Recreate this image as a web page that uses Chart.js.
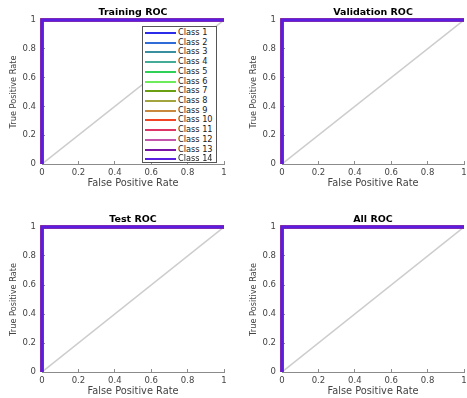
<!DOCTYPE html>
<html>
<head>
<meta charset="utf-8">
<script src="https://cdn.jsdelivr.net/npm/chart.js@4.4.1/dist/chart.umd.min.js"></script>
<style>
    body { margin: 0; background: #ffffff; }
    #page { position: relative; width: 467px; height: 398px; overflow: hidden; background: #ffffff; }
    canvas { position: absolute; }
    #legend {
        position: absolute; left: 142px; top: 26px; width: 75px; height: 137px;
        background: #ffffff; border: 1px solid #555555; box-sizing: border-box;
        font-family: 'DejaVu Sans', sans-serif; font-size: 8.2px; color: #222222;
        padding-top: 1px;
    }
    .row { position: relative; height: 9.72px; }
    .row .swatch { position: absolute; left: 2px; top: 4px; width: 31px; height: 2px; }
    .row .label { position: absolute; left: 35px; top: 0; line-height: 9.72px; white-space: nowrap; }
</style>
</head>
<body>
<div id="page">
    <canvas id="train" width="227" height="198" style="left:0;top:0"></canvas>
    <canvas id="valid" width="227" height="198" style="left:240px;top:0"></canvas>
    <canvas id="test" width="227" height="206" style="left:0;top:200px"></canvas>
    <canvas id="all" width="227" height="206" style="left:240px;top:200px"></canvas>
    <div id="legend"></div>
</div>
<script>
// Panel titles
const panelTitles = ['Training ROC', 'Validation ROC', 'Test ROC', 'All ROC'];

// Classes and their line colors
const classNames = ['Class 1', 'Class 2', 'Class 3', 'Class 4', 'Class 5', 'Class 6', 'Class 7',
    'Class 8', 'Class 9', 'Class 10', 'Class 11', 'Class 12', 'Class 13', 'Class 14'];
const classColors = ['#2b2bea', '#2f6cd8', '#3a8f9f', '#45ab99', '#2fcf58', '#6cec5a', '#6a9f12',
    '#a3a43e', '#c8893e', '#ef4426', '#dc3566', '#c356aa', '#7a14a6', '#5a1ee0'];

// ROC curve points (same perfect curve for every class in every panel)
const rocFpr = [0, 0, 1];
const rocTpr = [0, 1, 1];

// Chance diagonal
const chanceFpr = [0, 1];
const chanceTpr = [0, 1];

// Axis ticks
const tickValues = [0, 0.2, 0.4, 0.6, 0.8, 1];
const tickLabels = ['0', '0.2', '0.4', '0.6', '0.8', '1'];

const axisGray = '#8c8c8c';
const textGray = '#444444';

function toPoints(xs, ys) {
    return xs.map((x, i) => ({ x: x, y: ys[i] }));
}

/**
 * Build one ROC panel
 */
function buildPanel(canvasId, title, topPad) {
    const ctx = document.getElementById(canvasId).getContext('2d');

    // lower order is drawn on top, so Class 14 ends up visible
    const datasets = classNames.map((name, i) => ({
        label: name,
        data: toPoints(rocFpr, rocTpr),
        borderColor: classColors[i],
        backgroundColor: classColors[i],
        borderWidth: 3,
        pointRadius: 0,
        showLine: true,
        clip: false,
        order: classNames.length - 1 - i
    }));

    datasets.push({
        label: 'chance',
        data: toPoints(chanceFpr, chanceTpr),
        borderColor: '#cdcdcd',
        borderWidth: 1.5,
        pointRadius: 0,
        showLine: true,
        order: 50
    });

    const tickFont = { family: 'DejaVu Sans', size: 8.5 };

    return new Chart(ctx, {
        type: 'scatter',
        data: { datasets: datasets },
        options: {
            responsive: false,
            animation: false,
            events: [],
            layout: { padding: { top: topPad, right: 3, left: 0, bottom: 0 } },
            plugins: {
                legend: { display: false },
                tooltip: { enabled: false },
                title: {
                    display: true,
                    text: title,
                    fullSize: false,
                    color: '#000000',
                    font: { family: 'DejaVu Sans', size: 9.5, weight: 'bold', lineHeight: 1.2 },
                    padding: { top: 1.3, bottom: 20 - 6 - 1.3 - 11.4 }
                }
            },
            scales: {
                x: {
                    type: 'linear',
                    min: 0,
                    max: 1,
                    afterBuildTicks: (scale) => { scale.ticks = tickValues.map(v => ({ value: v })); },
                    afterFit: (scale) => { scale.height = 34; scale.paddingLeft = 0; scale.paddingRight = 0; },
                    grid: { drawOnChartArea: false, drawTicks: true, tickLength: -3, color: axisGray },
                    border: { display: true, color: axisGray, width: 1 },
                    ticks: {
                        padding: 7,
                        color: textGray,
                        font: tickFont,
                        maxRotation: 0,
                        autoSkip: false,
                        callback: (value, index) => tickLabels[index]
                    },
                    title: {
                        display: true,
                        text: 'False Positive Rate',
                        color: textGray,
                        font: { family: 'DejaVu Sans', size: 9.8, lineHeight: 1.2 },
                        padding: { top: 0, bottom: 9.1 }
                    }
                },
                y: {
                    type: 'linear',
                    min: 0,
                    max: 1,
                    afterBuildTicks: (scale) => { scale.ticks = tickValues.map(v => ({ value: v })); },
                    afterFit: (scale) => { scale.width = 42; scale.paddingTop = 0; scale.paddingBottom = 0; },
                    grid: { drawOnChartArea: false, drawTicks: true, tickLength: -3, color: axisGray },
                    border: { display: true, color: axisGray, width: 1 },
                    ticks: {
                        padding: 9,
                        color: textGray,
                        font: tickFont,
                        autoSkip: false,
                        callback: (value, index) => tickLabels[index]
                    },
                    title: {
                        display: true,
                        text: 'True Positive Rate',
                        color: textGray,
                        font: { family: 'DejaVu Sans', size: 8.2, lineHeight: 1.2 },
                        padding: { top: 9, bottom: 0 }
                    }
                }
            }
        }
    });
}

buildPanel('train', panelTitles[0], 6);
buildPanel('valid', panelTitles[1], 6);
buildPanel('test', panelTitles[2], 13);
buildPanel('all', panelTitles[3], 13);

// Legend box inside the Training panel
const legendEl = document.getElementById('legend');
classNames.forEach((name, i) => {
    const row = document.createElement('div');
    row.className = 'row';
    row.innerHTML = '<span class="swatch" style="background:' + classColors[i] + '"></span>' +
        '<span class="label">' + name + '</span>';
    legendEl.appendChild(row);
});
</script>
</body>
</html>
